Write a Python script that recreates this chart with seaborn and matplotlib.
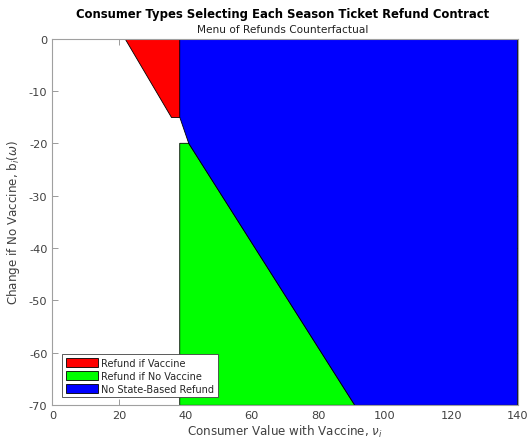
import matplotlib
matplotlib.use("Agg")
import matplotlib.pyplot as plt
from matplotlib.patches import Patch
import seaborn as sns

sns.set_theme(style="ticks")
plt.rcParams["font.family"] = ["DejaVu Sans"]
plt.rcParams["axes.unicode_minus"] = False

# Region boundaries in (consumer value, change if no vaccine) space
refund_vaccine_x = [21.8, 38.3, 38.3, 35.6]
refund_vaccine_y = [0, 0, -15, -15]

refund_no_vaccine_x = [38.3, 41.0, 91.0, 38.3]
refund_no_vaccine_y = [-20, -20, -70, -70]

no_refund_x = [38.3, 140, 140, 91.0, 41.0, 38.3]
no_refund_y = [0, 0, -70, -70, -20, -15]

labels = ["Refund if Vaccine", "Refund if No Vaccine", "No State-Based Refund"]
colors = ["#ff0000", "#00ff00", "#0000ff"]

fig = plt.figure(figsize=(5.27, 4.39), dpi=100)
ax = fig.add_axes([0.0996, 0.0745, 0.8826, 0.8355])

regions = [
    (refund_vaccine_x, refund_vaccine_y),
    (refund_no_vaccine_x, refund_no_vaccine_y),
    (no_refund_x, no_refund_y),
]
for (xs, ys), c in zip(regions, colors):
    ax.fill(xs, ys, facecolor=c, edgecolor="black", linewidth=0.6)

ax.set_xlim(0, 140)
ax.set_ylim(-70, 0)
ax.set_xticks(range(0, 141, 20))
ax.set_yticks(range(-70, 1, 10))
ax.tick_params(axis="both", direction="in", length=4, width=0.6,
               labelsize=8.2, colors="#8a8a8a", labelcolor="#404040",
               top=True, right=True, pad=3.6)
for s in ax.spines.values():
    s.set_color("#a0a0a0")
    s.set_linewidth(0.8)

ax.set_xlabel(r"Consumer Value with Vaccine, $\nu_i$", fontsize=8.6,
              color="#404040", labelpad=2)
ax.set_ylabel(r"Change if No Vaccine, b$_i$($\omega$)", fontsize=8.6,
              color="#404040", labelpad=5)

fig.text(0.536, 0.966, "Consumer Types Selecting Each Season Ticket Refund Contract",
         ha="center", va="center", fontsize=8.4, fontweight="bold", color="black")
fig.text(0.537, 0.932, "Menu of Refunds Counterfactual",
         ha="center", va="center", fontsize=7.6, color="#202020")

handles = [Patch(facecolor=c, edgecolor="black", linewidth=0.6, label=l)
           for c, l in zip(colors, labels)]
leg = ax.legend(handles=handles, loc="lower left", fontsize=7,
                frameon=True, fancybox=False, framealpha=1,
                edgecolor="#404040", handlelength=3.3, handleheight=1.0,
                borderpad=0.35, labelspacing=0.3, handletextpad=0.38,
                borderaxespad=0, bbox_to_anchor=(0.021, 0.0226))
leg.get_frame().set_linewidth(0.6)

fig.savefig("out.png", dpi=100)
